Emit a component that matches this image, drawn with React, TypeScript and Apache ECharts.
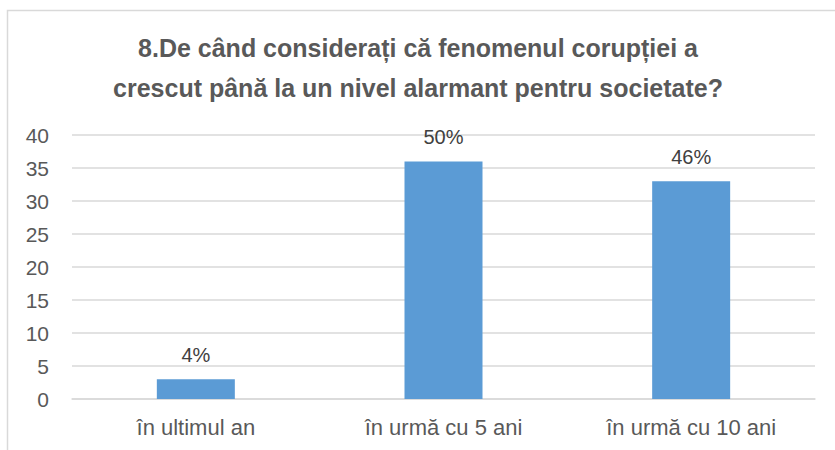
import React, { useEffect, useRef } from "react";
import * as echarts from "echarts";

const categories = ["în ultimul an", "în urmă cu 5 ani", "în urmă cu 10 ani"];
const values = [3, 36, 33];
const percentLabels = ["4%", "50%", "46%"];
const titleLines = [
  "8.De când considerați că fenomenul corupției a",
  "crescut până la un nivel alarmant pentru societate?",
];

export default function App() {
  const ref = useRef<HTMLDivElement>(null);
  useEffect(() => {
    if (!ref.current) return;
    const chart = echarts.init(ref.current, null, { renderer: "svg" });
    const font = "'Liberation Sans', Arial, sans-serif";
    chart.setOption({
      animation: false,
      backgroundColor: "#ffffff",
      textStyle: { fontFamily: font },
      graphic: [
        {
          type: "rect",
          shape: { x: 7.5, y: 10.5, width: 900, height: 600 },
          style: { fill: "none", stroke: "#d9d9d9", lineWidth: 1.5 },
          silent: true,
        },
        ...titleLines.map((t, i) => ({
          type: "text",
          x: 418,
          y: 48 + i * 40,
          style: {
            text: t,
            fill: "#595959",
            font: `bold 25px ${font}`,
            textAlign: "center",
            textVerticalAlign: "middle",
          },
          silent: true,
        })),
      ],
      grid: { left: 72, right: 20, top: 135, bottom: 51, containLabel: false },
      xAxis: {
        type: "category",
        data: categories,
        axisLine: { lineStyle: { color: "#d9d9d9", width: 1.5 } },
        axisTick: { show: false },
        axisLabel: { color: "#595959", fontSize: 22, margin: 17, fontFamily: font },
      },
      yAxis: {
        type: "value",
        min: 0,
        max: 40,
        interval: 5,
        axisLine: { show: false },
        axisTick: { show: false },
        axisLabel: { color: "#595959", fontSize: 21, margin: 23, fontFamily: font },
        splitLine: { lineStyle: { color: "#d9d9d9", width: 1.5 } },
      },
      series: [
        {
          type: "bar",
          data: values,
          barWidth: 78,
          itemStyle: { color: "#5b9bd5" },
          label: {
            show: true,
            position: "top",
            distance: 14,
            color: "#404040",
            fontSize: 20,
            fontFamily: font,
            formatter: (p: any) => percentLabels[p.dataIndex],
          },
        },
      ],
    });
    return () => chart.dispose();
  }, []);
  return (
    <div
      ref={ref}
      style={{ position: "fixed", left: 0, top: 0, width: 835, height: 450 }}
    />
  );
}
